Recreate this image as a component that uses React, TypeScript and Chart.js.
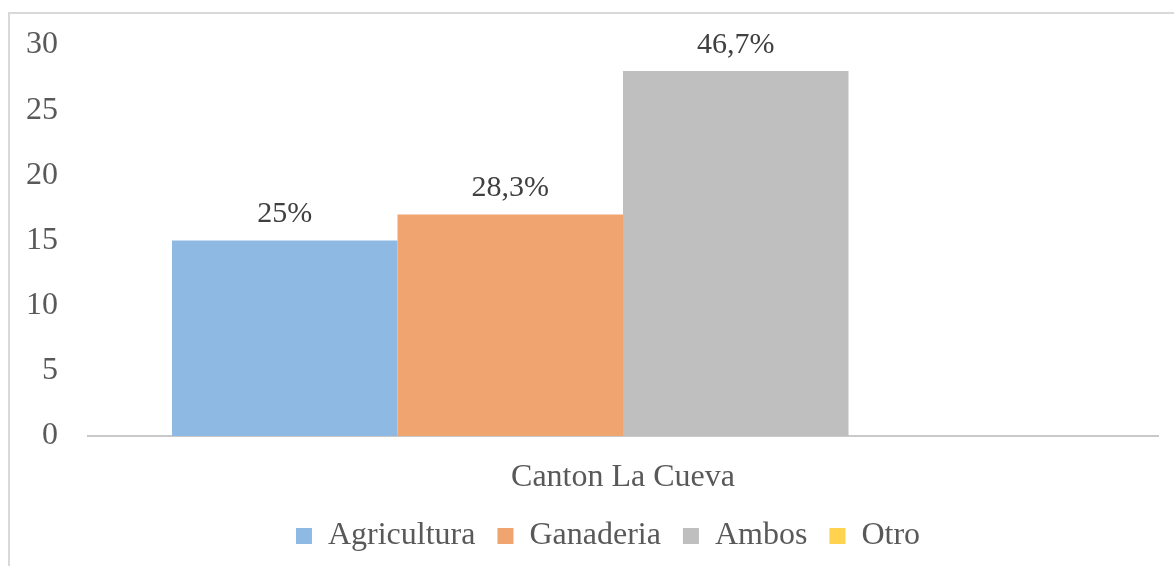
import React, { useEffect, useRef } from "react";
import { Chart, registerables } from "chart.js";

Chart.register(...registerables);

const categories = ["Canton La Cueva"];
const seriesNames = ["Agricultura", "Ganaderia", "Ambos", "Otro"];
const seriesValues = [15, 17, 28, 0];
const seriesLabels = ["25%", "28,3%", "46,7%", ""];
const seriesColors = ["#8db9e2", "#f0a46f", "#bfbfbf", "#ffd34d"];
const yTicks = [0, 5, 10, 15, 20, 25, 30];

const FONT = "'Liberation Serif', 'Times New Roman', serif";

const dataLabelPlugin = {
  id: "dataLabels",
  afterDatasetsDraw(chart: any) {
    const ctx = chart.ctx;
    ctx.save();
    ctx.font = `30px ${FONT}`;
    ctx.fillStyle = "#404040";
    ctx.textAlign = "center";
    ctx.textBaseline = "middle";
    chart.data.datasets.forEach((ds: any, i: number) => {
      const meta = chart.getDatasetMeta(i);
      const text = seriesLabels[i];
      if (!text) return;
      meta.data.forEach((bar: any) => {
        ctx.fillText(text, bar.x, bar.y - 26);
      });
    });
    ctx.restore();
  },
};

export default function App() {
  const ref = useRef<HTMLCanvasElement>(null);
  useEffect(() => {
    if (!ref.current) return;
    const chart = new Chart(ref.current, {
      type: "bar",
      data: {
        labels: categories,
        datasets: seriesNames.map((name, i) => ({
          label: name,
          data: [seriesValues[i]],
          backgroundColor: seriesColors[i],
          borderWidth: 0,
          categoryPercentage: 0.843,
          barPercentage: 1,
        })),
      },
      options: {
        animation: false,
        responsive: false,
        devicePixelRatio: 1,
        layout: { padding: { top: 31, right: -32, left: 0, bottom: 0 } },
        plugins: {
          tooltip: { enabled: false },
          legend: {
            position: "bottom",
            labels: {
              boxWidth: 16,
              boxHeight: 16,
              padding: 22,
              color: "#595959",
              font: { family: FONT, size: 32 },
            },
          },
        },
        scales: {
          x: {
            grid: { display: false, drawTicks: false },
            border: { display: true, color: "#c9c9c9", width: 2 },
            ticks: {
              color: "#595959",
              font: { family: FONT, size: 32 },
              mirror: true,
              padding: -61,
            },
            afterFit(scale: any) {
              scale.height = 62;
              scale.paddingLeft = 0;
              scale.paddingRight = 16;
            },
          },
          y: {
            min: 0,
            max: 30,
            afterBuildTicks(scale: any) {
              scale.ticks = yTicks.map((v) => ({ value: v }));
            },
            grid: { display: false, drawTicks: false },
            border: { display: false },
            ticks: { color: "#595959", font: { family: FONT, size: 32 }, padding: 30 },
            afterFit(scale: any) {
              scale.width = 78;
              scale.paddingTop = 0;
              scale.paddingBottom = 0;
            },
          },
        },
      },
      plugins: [dataLabelPlugin],
    });
    return () => chart.destroy();
  }, []);

  return (
    <div
      style={{
        position: "absolute",
        left: 8,
        top: 12,
        width: 1166,
        height: 554,
        borderLeft: "2px solid #d9d9d9",
        borderTop: "2px solid #d9d9d9",
        overflow: "hidden",
        background: "#fff",
      }}
    >
      <canvas ref={ref} width={1164} height={548} style={{ display: "block" }} />
    </div>
  );
}
